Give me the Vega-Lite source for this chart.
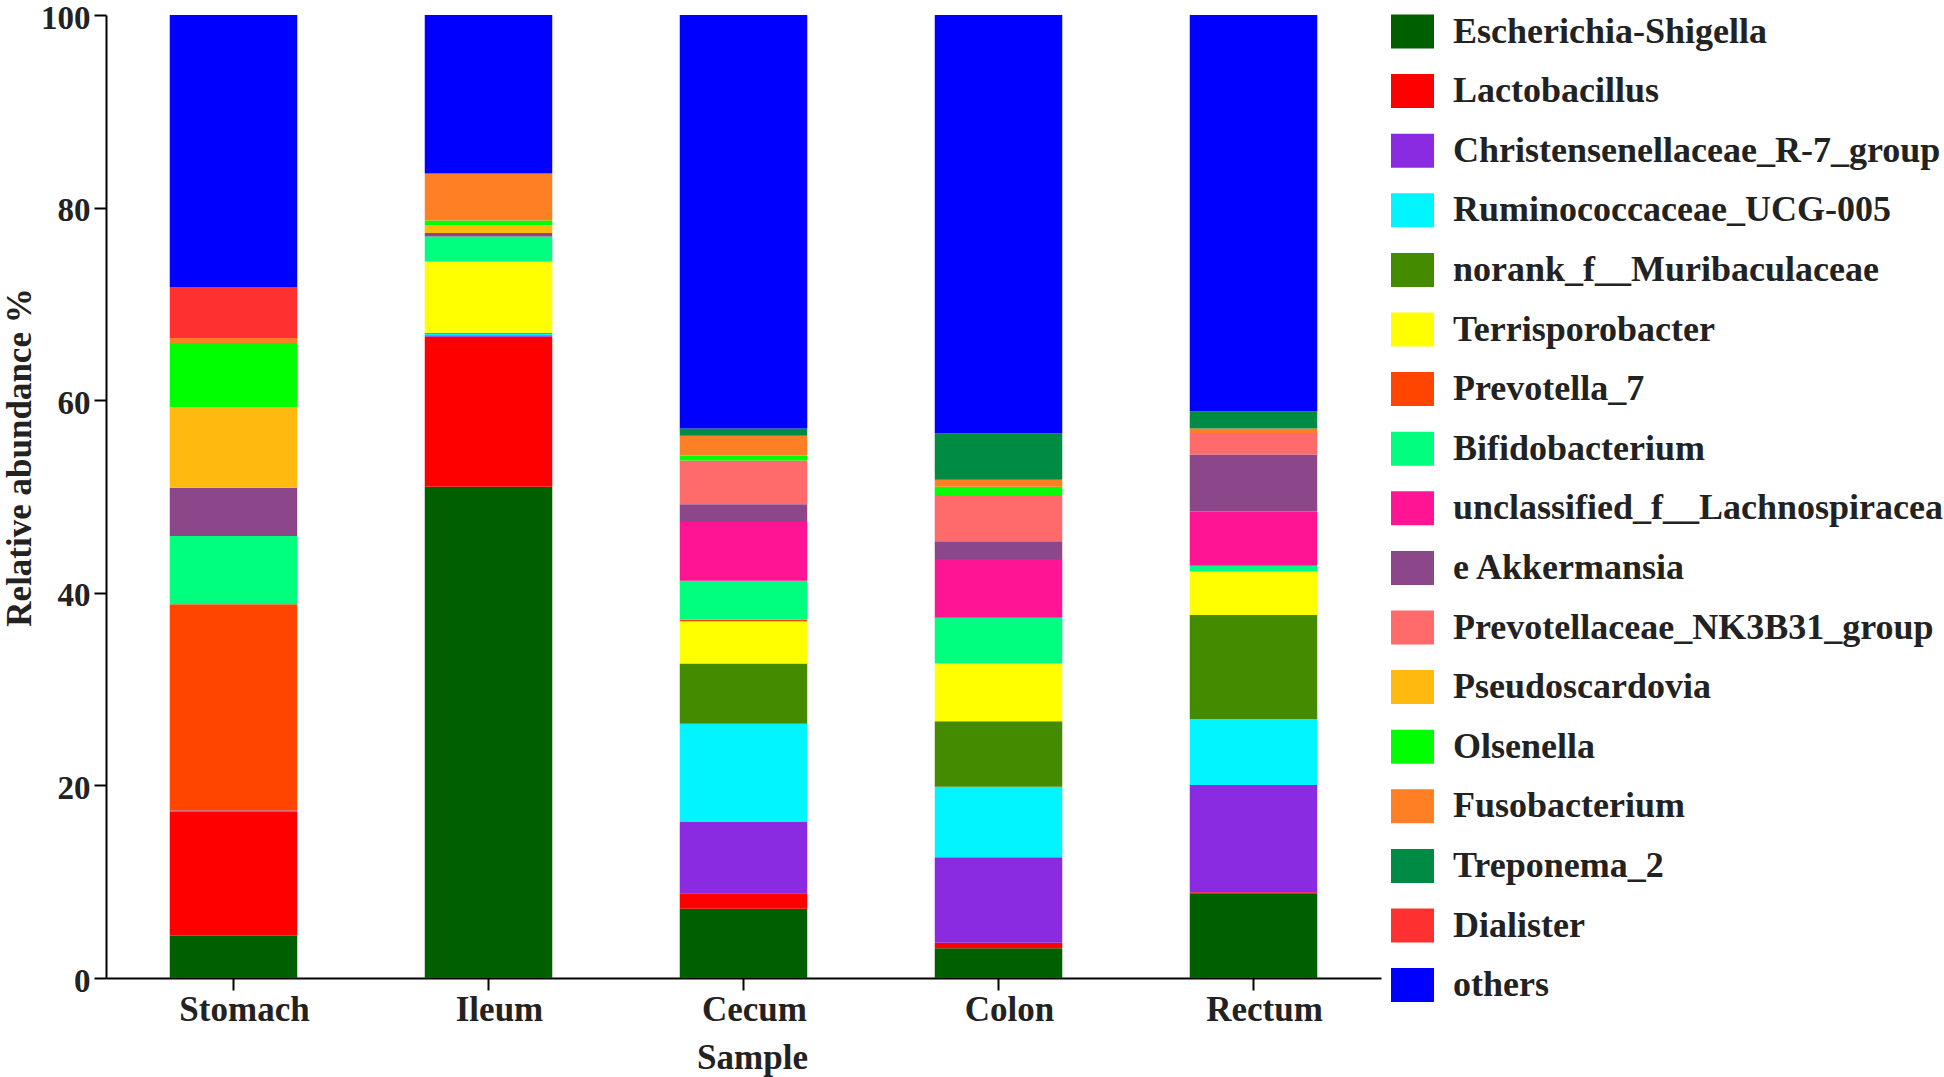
{
  "$schema": "https://vega.github.io/schema/vega-lite/v6.json",
  "width": 1275,
  "height": 963,
  "autosize": {"type": "none"},
  "padding": {"left": 106, "top": 15, "right": 563, "bottom": 99},
  "background": "white",
  "config": {
    "view": {"stroke": null},
    "font": "Liberation Serif",
    "axis": {
      "labelFont": "Liberation Serif", "labelFontWeight": "bold", "labelFontSize": 35, "labelColor": "#222222",
      "titleFont": "Liberation Serif", "titleFontWeight": "bold", "titleFontSize": 35, "titleColor": "#222222",
      "domainColor": "#000000", "domainWidth": 2, "tickColor": "#000000", "tickWidth": 2, "tickSize": 12, "grid": false
    },
    "legend": {
      "labelFont": "Liberation Serif", "labelFontWeight": "bold", "labelFontSize": 36, "labelColor": "#222222",
      "labelLimit": 700, "labelOffset": 19, "padding": 0, "rowPadding": 19.6,
      "symbolType": "M-1,-0.79H1V0.79H-1Z", "symbolSize": 1849, "symbolStrokeWidth": 0, "symbolOpacity": 1
    }
  },
  "data": {"values": [
    {"s":"Stomach","g":"Escherichia-Shigella","v":4.4,"k":1},
    {"s":"Stomach","g":"Lactobacillus","v":12.9,"k":2},
    {"s":"Stomach","g":"Christensenellaceae_R-7_group","v":0.1,"k":3},
    {"s":"Stomach","g":"Prevotella_7","v":21.4,"k":7},
    {"s":"Stomach","g":"Bifidobacterium","v":7.1,"k":8},
    {"s":"Stomach","g":"e Akkermansia","v":5.0,"k":10},
    {"s":"Stomach","g":"Pseudoscardovia","v":8.35,"k":12},
    {"s":"Stomach","g":"Olsenella","v":6.7,"k":13},
    {"s":"Stomach","g":"Fusobacterium","v":0.5,"k":14},
    {"s":"Stomach","g":"Dialister","v":5.3,"k":16},
    {"s":"Stomach","g":"others","v":28.25,"k":17},
    {"s":"Ileum","g":"Escherichia-Shigella","v":51.0,"k":1},
    {"s":"Ileum","g":"Lactobacillus","v":15.6,"k":2},
    {"s":"Ileum","g":"Christensenellaceae_R-7_group","v":0.15,"k":3},
    {"s":"Ileum","g":"Ruminococcaceae_UCG-005","v":0.15,"k":4},
    {"s":"Ileum","g":"norank_f__Muribaculaceae","v":0.1,"k":5},
    {"s":"Ileum","g":"Terrisporobacter","v":7.4,"k":6},
    {"s":"Ileum","g":"Bifidobacterium","v":2.6,"k":8},
    {"s":"Ileum","g":"e Akkermansia","v":0.35,"k":10},
    {"s":"Ileum","g":"Pseudoscardovia","v":0.8,"k":12},
    {"s":"Ileum","g":"Olsenella","v":0.5,"k":13},
    {"s":"Ileum","g":"Fusobacterium","v":4.9,"k":14},
    {"s":"Ileum","g":"others","v":16.45,"k":17},
    {"s":"Cecum","g":"Escherichia-Shigella","v":7.2,"k":1},
    {"s":"Cecum","g":"Lactobacillus","v":1.6,"k":2},
    {"s":"Cecum","g":"Christensenellaceae_R-7_group","v":7.4,"k":3},
    {"s":"Cecum","g":"Ruminococcaceae_UCG-005","v":10.2,"k":4},
    {"s":"Cecum","g":"norank_f__Muribaculaceae","v":6.25,"k":5},
    {"s":"Cecum","g":"Terrisporobacter","v":4.4,"k":6},
    {"s":"Cecum","g":"Prevotella_7","v":0.15,"k":7},
    {"s":"Cecum","g":"Bifidobacterium","v":4.05,"k":8},
    {"s":"Cecum","g":"unclassified_f__Lachnospiracea","v":6.1,"k":9},
    {"s":"Cecum","g":"e Akkermansia","v":1.85,"k":10},
    {"s":"Cecum","g":"Prevotellaceae_NK3B31_group","v":4.55,"k":11},
    {"s":"Cecum","g":"Olsenella","v":0.5,"k":13},
    {"s":"Cecum","g":"Fusobacterium","v":2.05,"k":14},
    {"s":"Cecum","g":"Treponema_2","v":0.75,"k":15},
    {"s":"Cecum","g":"others","v":42.95,"k":17},
    {"s":"Colon","g":"Escherichia-Shigella","v":3.1,"k":1},
    {"s":"Colon","g":"Lactobacillus","v":0.55,"k":2},
    {"s":"Colon","g":"Christensenellaceae_R-7_group","v":8.9,"k":3},
    {"s":"Colon","g":"Ruminococcaceae_UCG-005","v":7.3,"k":4},
    {"s":"Colon","g":"norank_f__Muribaculaceae","v":6.8,"k":5},
    {"s":"Colon","g":"Terrisporobacter","v":6.0,"k":6},
    {"s":"Colon","g":"Bifidobacterium","v":4.75,"k":8},
    {"s":"Colon","g":"unclassified_f__Lachnospiracea","v":6.1,"k":9},
    {"s":"Colon","g":"e Akkermansia","v":1.85,"k":10},
    {"s":"Colon","g":"Prevotellaceae_NK3B31_group","v":4.8,"k":11},
    {"s":"Colon","g":"Olsenella","v":0.85,"k":13},
    {"s":"Colon","g":"Fusobacterium","v":0.75,"k":14},
    {"s":"Colon","g":"Treponema_2","v":4.8,"k":15},
    {"s":"Colon","g":"others","v":43.45,"k":17},
    {"s":"Rectum","g":"Escherichia-Shigella","v":8.8,"k":1},
    {"s":"Rectum","g":"Lactobacillus","v":0.1,"k":2},
    {"s":"Rectum","g":"Christensenellaceae_R-7_group","v":11.15,"k":3},
    {"s":"Rectum","g":"Ruminococcaceae_UCG-005","v":6.85,"k":4},
    {"s":"Rectum","g":"norank_f__Muribaculaceae","v":10.8,"k":5},
    {"s":"Rectum","g":"Terrisporobacter","v":4.5,"k":6},
    {"s":"Rectum","g":"Bifidobacterium","v":0.6,"k":8},
    {"s":"Rectum","g":"unclassified_f__Lachnospiracea","v":5.65,"k":9},
    {"s":"Rectum","g":"e Akkermansia","v":5.9,"k":10},
    {"s":"Rectum","g":"Prevotellaceae_NK3B31_group","v":2.25,"k":11},
    {"s":"Rectum","g":"Fusobacterium","v":0.45,"k":14},
    {"s":"Rectum","g":"Treponema_2","v":1.8,"k":15},
    {"s":"Rectum","g":"others","v":41.15,"k":17}
  ]},
  "mark": {"type": "bar", "strokeWidth": 0},
  "encoding": {
    "x": {
      "field": "s", "type": "nominal", "title": "Sample",
      "sort": ["Stomach", "Ileum", "Cecum", "Colon", "Rectum"],
      "scale": {"paddingInner": 0.5, "paddingOuter": 0.25},
      "axis": {"labelAngle": 0, "labelPadding": 2, "labelOffset": 11, "titleX": 646, "titleY": 79, "titleBaseline": "middle", "titleAlign": "center"}
    },
    "y": {
      "field": "v", "type": "quantitative", "stack": "zero", "title": "Relative abundance %",
      "scale": {"domain": [0, 100], "nice": false},
      "axis": {"values": [0, 20, 40, 60, 80, 100], "labelPadding": 4, "labelFontSize": 33, "labelOffset": 3, "titleX": -87, "titleY": 442, "titleAngle": -90, "titleBaseline": "middle", "titleAlign": "center"}
    },
    "order": {"field": "k", "type": "quantitative", "sort": "ascending"},
    "color": {
      "field": "g", "type": "nominal",
      "sort": ["Escherichia-Shigella", "Lactobacillus", "Christensenellaceae_R-7_group", "Ruminococcaceae_UCG-005", "norank_f__Muribaculaceae", "Terrisporobacter", "Prevotella_7", "Bifidobacterium", "unclassified_f__Lachnospiracea", "e Akkermansia", "Prevotellaceae_NK3B31_group", "Pseudoscardovia", "Olsenella", "Fusobacterium", "Treponema_2", "Dialister", "others"],
      "scale": {
        "domain": ["Escherichia-Shigella", "Lactobacillus", "Christensenellaceae_R-7_group", "Ruminococcaceae_UCG-005", "norank_f__Muribaculaceae", "Terrisporobacter", "Prevotella_7", "Bifidobacterium", "unclassified_f__Lachnospiracea", "e Akkermansia", "Prevotellaceae_NK3B31_group", "Pseudoscardovia", "Olsenella", "Fusobacterium", "Treponema_2", "Dialister", "others"],
        "range": ["#006000", "#FF0000", "#8A2BE2", "#00F5FF", "#458B00", "#FFFF00", "#FF4500", "#00FF7F", "#FF1493", "#8B4789", "#FF6A6A", "#FFB90F", "#00FF00", "#FF7F24", "#008B45", "#FF3030", "#0000FF"]
      },
      "legend": {"title": null, "orient": "none", "legendX": 1285, "legendY": -5, "direction": "vertical", "columns": 1}
    }
  }
}
